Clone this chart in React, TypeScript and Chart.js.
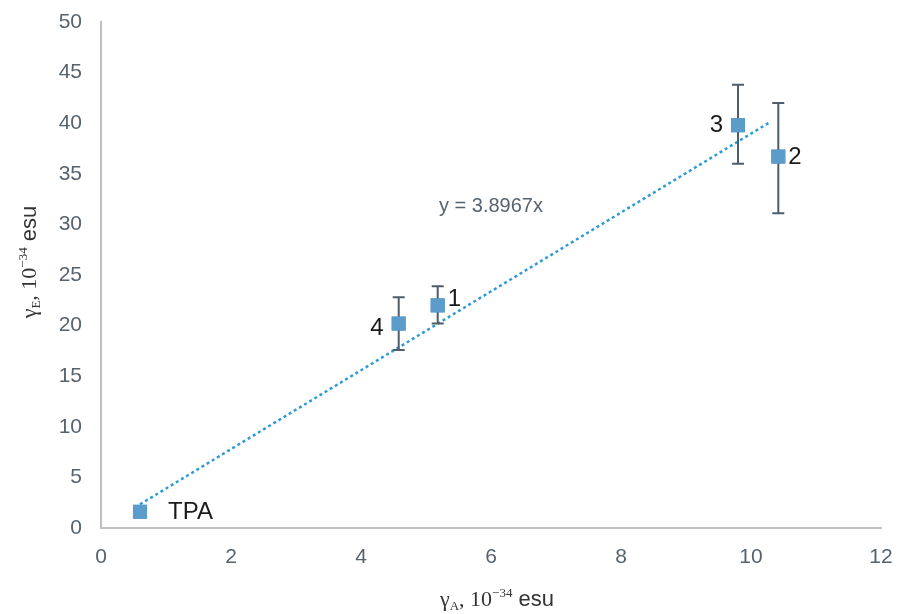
import React, { useEffect, useRef } from "react";
import { Chart, registerables } from "chart.js";

Chart.register(...registerables);

const labels = ["TPA", "4", "1", "3", "2"];
const xValues = [0.6, 4.58, 5.18, 9.8, 10.42];
const yValues = [1.6, 20.2, 22.0, 39.8, 36.7];
const errHigh = [1.6, 22.8, 23.9, 43.8, 42.0];
const errLow = [1.6, 17.6, 20.2, 36.0, 31.1];
const labelSide = ["right", "left", "right", "left", "right"];
const slope = 3.8967;
const trendX = [0.6, 10.3];
const xTicks = [0, 2, 4, 6, 8, 10, 12];
const yTicks = [0, 5, 10, 15, 20, 25, 30, 35, 40, 45, 50];

const sans = "'Liberation Sans', Arial, sans-serif";

const errorBarPlugin = {
  id: "errorBars",
  afterDatasetsDraw(chart: any) {
    const { ctx, scales } = chart;
    const xs = scales.x, ys = scales.y;
    ctx.save();
    ctx.strokeStyle = "#4f5d6b";
    ctx.lineWidth = 2;
    for (let i = 0; i < xValues.length; i++) {
      if (errHigh[i] === errLow[i]) continue;
      const px = xs.getPixelForValue(xValues[i]);
      const top = ys.getPixelForValue(errHigh[i]);
      const bot = ys.getPixelForValue(errLow[i]);
      ctx.beginPath();
      ctx.moveTo(px, top);
      ctx.lineTo(px, bot);
      ctx.moveTo(px - 6, top);
      ctx.lineTo(px + 6, top);
      ctx.moveTo(px - 6, bot);
      ctx.lineTo(px + 6, bot);
      ctx.stroke();
    }
    ctx.restore();
  },
  afterDraw(chart: any) {
    const meta = chart.getDatasetMeta(1);
    const ctx = chart.ctx;
    ctx.save();
    ctx.fillStyle = "#5b9ccb";
    for (const el of meta.data) {
      ctx.fillRect(el.x - 7, el.y - 7, 14, 14);
    }
    ctx.restore();
  },
};

const overlayPlugin = {
  id: "overlay",
  afterDraw(chart: any) {
    const { ctx, scales, chartArea } = chart;
    const xs = scales.x, ys = scales.y;
    ctx.save();
    ctx.fillStyle = "#1a1a1a";
    ctx.font = "24px " + sans;
    ctx.textBaseline = "middle";
    for (let i = 0; i < labels.length; i++) {
      const px = xs.getPixelForValue(xValues[i]);
      const py = ys.getPixelForValue(yValues[i]);
      if (labelSide[i] === "right") {
        ctx.textAlign = "left";
        const off = labels[i] === "TPA" ? 28 : 10;
        ctx.fillText(labels[i], px + off, py + (labels[i] === "1" ? -6 : 1));
      } else {
        ctx.textAlign = "right";
        ctx.fillText(labels[i], px - 15, py + (labels[i] === "4" ? 5 : 0));
      }
    }
    ctx.fillStyle = "#57636e";
    ctx.font = "20px " + sans;
    ctx.textAlign = "left";
    ctx.fillText("y = " + slope + "x", xs.getPixelForValue(5.2), ys.getPixelForValue(31.8));

    const serif = "'Liberation Serif', 'Times New Roman', serif";
    const drawTitle = (sub: string) => {
      const parts = [
        { t: "γ", f: "22px " + serif, dy: 0 },
        { t: sub, f: "13px " + serif, dy: 4 },
        { t: ", 10", f: "22px " + serif, dy: 0 },
        { t: "−34", f: "13px " + serif, dy: -9 },
        { t: " esu", f: "22px " + sans, dy: 0 },
      ];
      let w = 0;
      for (const p of parts) { ctx.font = p.f; w += ctx.measureText(p.t).width; }
      let x = -w / 2;
      ctx.textAlign = "left";
      ctx.textBaseline = "alphabetic";
      for (const p of parts) {
        ctx.font = p.f;
        ctx.fillText(p.t, x, p.dy);
        x += ctx.measureText(p.t).width;
      }
    };
    ctx.fillStyle = "#333333";
    ctx.save();
    ctx.translate((chartArea.left + chartArea.right) / 2 + 6, 606);
    drawTitle("A");
    ctx.restore();
    ctx.save();
    ctx.translate(36, 262);
    ctx.rotate(-Math.PI / 2);
    drawTitle("E");
    ctx.restore();
    ctx.restore();
  },
};

export default function App() {
  const ref = useRef<HTMLCanvasElement>(null);
  useEffect(() => {
    document.body.style.margin = "0";
    const chart = new Chart(ref.current as HTMLCanvasElement, {
      type: "scatter",
      data: {
        datasets: [
          {
            type: "line",
            data: trendX.map((x) => ({ x, y: slope * x })),
            borderColor: "#2f9ad6",
            borderWidth: 2.5,
            borderDash: [3, 3],
            pointRadius: 0,
            fill: false,
          } as any,
          {
            data: xValues.map((x, i) => ({ x, y: yValues[i] })),
            backgroundColor: "#5b9ccb",
            borderColor: "#5b9ccb",
            pointStyle: "rect",
            pointRadius: 10,
            borderWidth: 0,
          },
        ],
      },
      options: {
        animation: false,
        responsive: false,
        layout: { padding: { top: 22, right: 18, left: 0, bottom: 0 } },
        plugins: { legend: { display: false }, tooltip: { enabled: false } },
        scales: {
          x: {
            type: "linear",
            min: 0,
            max: 12,
            afterFit: (s: any) => { s.height = 86; s.paddingLeft = 0; s.paddingRight = 0; },
            afterBuildTicks: (s: any) => { s.ticks = xTicks.map((v) => ({ value: v })); },
            grid: { display: false },
            border: { display: true, color: "#c0c0c0", width: 2 },
            ticks: { color: "#57636e", font: { size: 21, family: sans }, padding: 9 },
          },
          y: {
            type: "linear",
            min: 0,
            max: 50,
            afterFit: (s: any) => { s.width = 101; s.paddingTop = 0; s.paddingBottom = 0; },
            afterBuildTicks: (s: any) => { s.ticks = yTicks.map((v) => ({ value: v })); },
            grid: { display: false },
            border: { display: true, color: "#c0c0c0", width: 2 },
            ticks: { color: "#57636e", font: { size: 21, family: sans }, padding: 11 },
          },
        },
      },
      plugins: [errorBarPlugin, overlayPlugin],
    });
    return () => chart.destroy();
  }, []);
  return <canvas ref={ref} width={899} height={614} style={{ display: "block" }} />;
}
